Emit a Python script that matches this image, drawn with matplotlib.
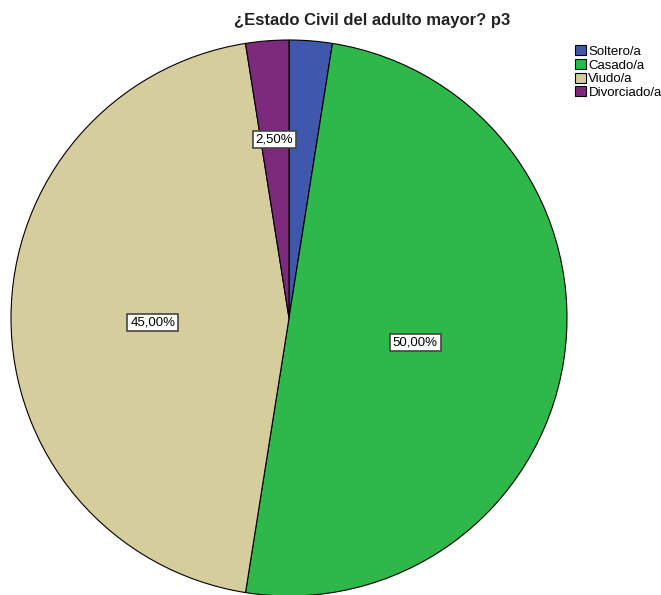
import numpy as np
import matplotlib
matplotlib.use("Agg")
import matplotlib.pyplot as plt
from matplotlib.patches import Patch

categories = ["Soltero/a", "Casado/a", "Viudo/a", "Divorciado/a"]
percents = [2.5, 50.0, 45.0, 2.5]
labels = ["2,50%", "50,00%", "45,00%", "2,50%"]
colors = ["#3F58AC", "#2EB84A", "#D5CD9B", "#7D2A7C"]

plt.rcParams['font.family'] = ['Liberation Sans', 'DejaVu Sans']

fig = plt.figure(figsize=(6.61, 5.95), dpi=100)
W, H = 661, 595
cx, cy, r = 289, 318, 278
ax = fig.add_axes([(cx - r) / W, (H - cy - r) / H, 2 * r / W, 2 * r / H])

wedges, _ = ax.pie(percents, colors=colors, startangle=90, counterclock=False,
                   radius=1, wedgeprops=dict(edgecolor='black', linewidth=0.8))
ax.set_xlim(-1, 1)
ax.set_ylim(-1, 1)
ax.set_aspect('equal')
ax.axis('off')

# label radii (Soltero label hidden behind Divorciado in the original)
label_r = [None, 0.46, 0.49, 0.66]
dy = -0.016
for w, lab, lr in zip(wedges, labels, label_r):
    if lr is None:
        continue
    ang = np.deg2rad((w.theta1 + w.theta2) / 2)
    ax.text(lr * np.cos(ang), lr * np.sin(ang) + dy, lab, ha='center', va='center',
            fontsize=9.5, bbox=dict(boxstyle='square,pad=0.22', fc='white', ec='#444444', lw=1.2))

fig.text(372 / W, 1 - 21 / H, "¿Estado Civil del adulto mayor? p3", ha='center', va='center',
         fontsize=12, fontweight='bold', color='#222222')

handles = [Patch(facecolor=c, edgecolor='black', linewidth=0.8) for c in colors]
fig.legend(handles, categories, loc='upper left', bbox_to_anchor=(566 / W, 1 - 36 / H),
           frameon=False, fontsize=9.5, handlelength=0.8, handleheight=0.8,
           handletextpad=0.2, labelspacing=0.08, borderpad=0.2)

fig.savefig("out.png", dpi=100)
